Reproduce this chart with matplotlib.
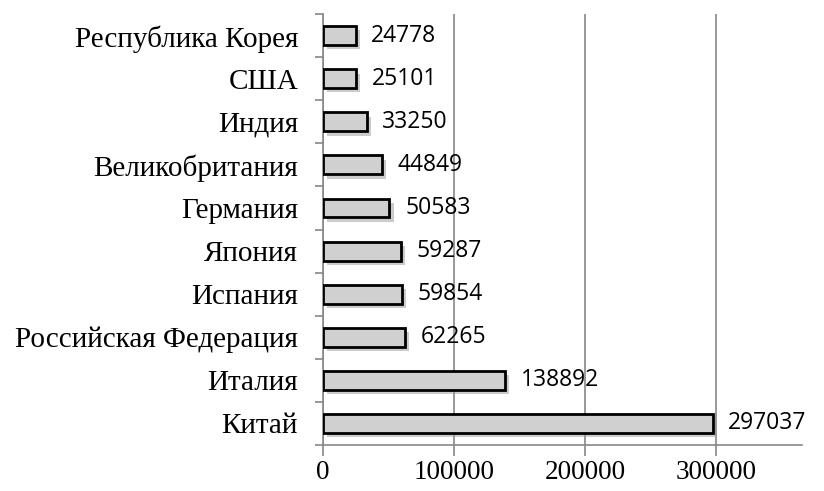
import matplotlib.pyplot as plt
import matplotlib.patheffects as pe
import numpy as np

countries = ["Китай", "Италия", "Российская Федерация", "Испания", "Япония",
             "Германия", "Великобритания", "Индия", "США", "Республика Корея"]
values = [297037, 138892, 62265, 59854, 59287, 50583, 44849, 33250, 25101, 24778]
xticks = [0, 100000, 200000, 300000]

fig = plt.figure(figsize=(8.24, 4.91), dpi=100)
ax = fig.add_axes([0.392, 0.094, 0.581, 0.877])

y = np.arange(len(countries))
bars = ax.barh(y, values, height=0.44, color="#d0d0d0", edgecolor="black",
               linewidth=2, zorder=3)
for b in bars:
    b.set_path_effects([pe.SimplePatchShadow(offset=(3, -3), shadow_rgbFace="#999999", alpha=0.5),
                        pe.Normal()])

for yi, v in zip(y, values):
    ax.text(v + 12000, yi, str(v), va="center", ha="left",
            fontsize=16.5, family="Open Sans", color="black")

ax.set_xlim(0, 365000)
ax.set_ylim(-0.5, len(countries) - 0.5)
ax.set_xticks(xticks)
ax.set_xticklabels([str(t) for t in xticks], family="Liberation Serif", fontsize=19.5)
ax.set_yticks(y)
ax.set_yticklabels(countries, family="Liberation Serif", fontsize=21)
ax.set_yticks(np.arange(-0.5, len(countries), 1), minor=True)

ax.tick_params(axis="y", which="major", length=0, pad=18)
ax.tick_params(axis="y", which="minor", length=6, color="#888888", width=1.2)
ax.tick_params(axis="x", length=8, color="#888888", width=1.2, pad=3)

ax.grid(axis="x", color="#888888", linewidth=1.2, zorder=0)
for s in ["top", "right"]:
    ax.spines[s].set_visible(False)
for s in ["left", "bottom"]:
    ax.spines[s].set_color("#888888")
    ax.spines[s].set_linewidth(1.2)

fig.savefig("out.png", dpi=100)
